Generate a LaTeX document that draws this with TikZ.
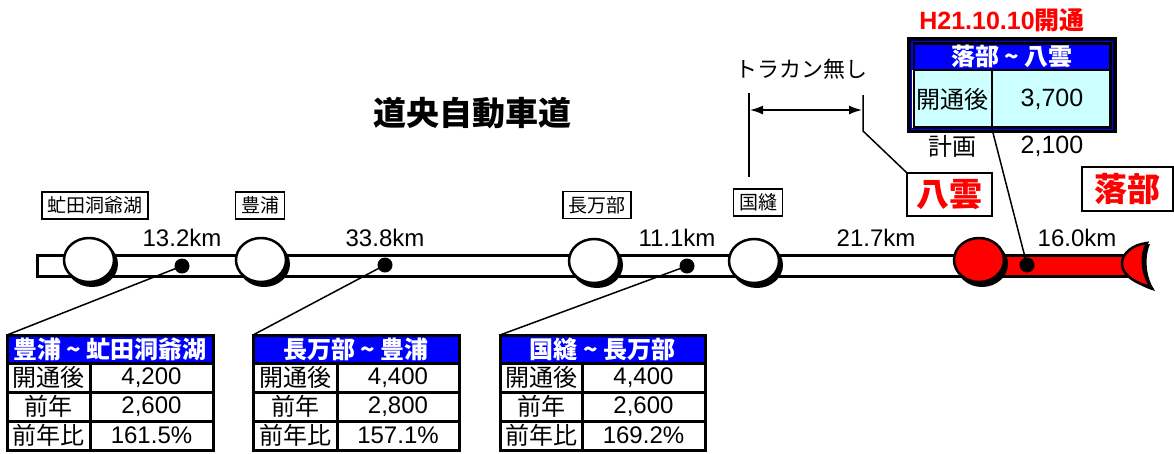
\documentclass[tikz,border=0pt]{standalone}
\usepackage{fontspec}
\setmainfont{Liberation Sans}
\newfontfamily\jp{Noto Sans CJK JP}
\usetikzlibrary{shapes.geometric,arrows.meta}
\definecolor{hdrblue}{RGB}{0,0,255}
\definecolor{pcyan}{RGB}{204,255,255}
\definecolor{rred}{RGB}{255,0,0}
\newcommand\fs[1]{\fontsize{#1}{#1}\selectfont}
\newcommand\ttable[8]{%
 \fill[hdrblue] (#2,335) rectangle (#4,363);
 \fill[white] (#2,363) rectangle (#4,450);
 \draw[tline] (#2,335) rectangle (#4,450);
 \draw[tline] (#2,363) -- (#4,363) (#2,392) -- (#4,392) (#2,421) -- (#4,421) (#3,363) -- (#3,450);
 \coordinate (#1tl) at (#2,335);
 \node[htext] (#1h) at ({(#2+#4)/2},349.5) {#5};
 \node[jtext] (#1ka) at ({(#2+#3)/2},377.5) {開通後};
 \node[jtext] (#1kb) at ({(#2+#3)/2},406.5) {前年};
 \node[jtext] (#1kc) at ({(#2+#3)/2},435.5) {前年比};
 \node[ntext] (#1va) at ({(#3+#4)/2},377.5) {#6};
 \node[ntext] (#1vb) at ({(#3+#4)/2},406.5) {#7};
 \node[ntext] (#1vc) at ({(#3+#4)/2},435.5) {#8};
}
\newcommand\station[4]{%
 \node[stshadow] (#1sh) at ({#2+3},{#3+4}) {};
 \node[station, fill=#4] (#1) at (#2,#3) {};
}
\begin{document}
\begin{tikzpicture}[x=1pt,y=-1pt,
  station/.style={ellipse, draw=black, line width=2.5pt, minimum width=50pt, minimum height=44pt, inner sep=0pt},
  stshadow/.style={ellipse, fill=black, minimum width=52pt, minimum height=46pt, inner sep=0pt},
  dot/.style={circle, fill=black, minimum size=15pt, inner sep=0pt},
  road/.style={line width=3pt, draw=black},
  leader/.style={line width=1.5pt, draw=black},
  lbl/.style={draw=black, line width=1.5pt, fill=white, font=\jp\fs{19}, inner xsep=5.5pt, inner ysep=0pt, minimum height=27pt},
  redlbl/.style={draw=black, line width=1.5pt, fill=white, font=\jp\bfseries\fs{33}, text=rred, inner sep=0pt, minimum height=43pt},
  km/.style={font=\fs{24}, inner sep=0pt},
  tline/.style={line width=3pt, draw=black},
  htext/.style={font=\jp\bfseries\fs{24}, text=white, inner sep=0pt},
  jtext/.style={font=\jp\fs{24}, inner sep=0pt},
  ntext/.style={font=\fs{24}, inner sep=0pt}
]
\useasboundingbox (0,0) rectangle (1174,453);

% title
\node[font=\jp\bfseries\fs{33}, inner sep=0pt] (title) at (472,113) {道央自動車道};

% road
\draw[road, fill=white] (37,255.5) rectangle (965,276.5);
\draw[road, fill=rred] (979,255.5) rectangle (1128,276.5);
% fish tail end
\fill[black] (1150,244) .. controls (1123,247) and (1111,278) .. (1155,291) .. controls (1146,278) and (1144,258) .. cycle;
\filldraw[fill=rred, draw=black, line width=2.5pt] (1147,243) .. controls (1119,246) and (1107,276) .. (1151,287) .. controls (1142,275) and (1140,255) .. cycle;

% stations
\station{s1}{89}{260}{white}
\station{s2}{261}{260}{white}
\station{s3}{594}{261}{white}
\station{s4}{754}{261}{white}
\station{s5}{979}{260}{rred}

% station labels
\node[lbl] (l1) at (95,205.5) {虻田洞爺湖};
\node[lbl] (l2) at (260,205.5) {豊浦};
\node[lbl] (l3) at (597,205) {長万部};
\node[lbl] (l4) at (758,202.5) {国縫};
\node[redlbl, minimum width=85pt] (l5) at (949.5,194.5) {八雲};
\node[redlbl, minimum width=91pt, minimum height=44pt] (l6) at (1127.5,189) {落部};

% distances
\node[km] (k1) at (182,238) {13.2km};
\node[km] (k2) at (385,238) {33.8km};
\node[km] (k3) at (677,238) {11.1km};
\node[km] (k4) at (876,238) {21.7km};
\node[km] (k5) at (1077,238) {16.0km};

% tables
\ttable{ta}{7}{90}{213}{豊浦 \textasciitilde{} 虻田洞爺湖}{4,200}{2,600}{161.5\%}
\ttable{tb}{253}{337}{459}{長万部 \textasciitilde{} 豊浦}{4,400}{2,800}{157.1\%}
\ttable{tc}{500}{582}{705}{国縫 \textasciitilde{} 長万部}{4,400}{2,600}{169.2\%}

% dots
\node[dot] (d1) at (182,266) {};
\node[dot] (d2) at (385,265) {};
\node[dot] (d3) at (687,266) {};
\node[dot] (d4) at (1027,265) {};

% leaders
\draw[leader] (d1.center) -- (tatl);
\draw[leader] (d2.center) -- (tbtl);
\draw[leader] (d3.center) -- (tctl);

% Yakumo-Otoshibe table
\draw[line width=4pt, draw=black, fill=white] (909,39) rectangle (1115,131);
\fill[hdrblue] (911,41) rectangle (1113,70);
\fill[pcyan] (914,70) rectangle (1110,127);
\draw[line width=1.2pt, draw=hdrblue] (911.5,41.5) rectangle (1112.5,129);
\draw[line width=2.5pt, draw=black] (914,43.5) rectangle (1110.5,127.5);
\draw[line width=2.5pt, draw=black] (914,70) -- (1110.5,70) (992,70) -- (992,127.5);
\coordinate (ytb) at (992,129);
\node[htext] (yh) at (1012,56.5) {落部 \textasciitilde{} 八雲};
\node[jtext] (yk) at (952,99) {開通後};
\node[ntext, font=\fs{25}] (yv) at (1052,99) {3,700};
\node[font=\bfseries\fs{25}, text=rred, inner sep=0pt] (open) at (1002,20) {H21.10.10{\jp 開通}};
\node[jtext, font=\jp\fs{24}] (pk) at (952,146) {計画};
\node[ntext, font=\fs{25}] (pv) at (1052,146) {2,100};
\draw[leader] (d4.center) -- (ytb);

% traffic counter note
\node[font=\jp\fs{22}, inner sep=0pt] (tk) at (801,69) {トラカン無し};
\coordinate (va) at (749,93);
\coordinate (vb) at (749,177);
\coordinate (wa) at (863,95);
\coordinate (wb) at (863,131);
\coordinate (aa) at (750,110);
\coordinate (ab) at (862,110);
\draw[leader] (va) -- (vb);
\draw[leader] (wa) -- (wb) -- (l5.north west);
\draw[leader, {Latex[length=13pt,width=9pt]}-{Latex[length=13pt,width=9pt]}] (aa) -- (ab);
\end{tikzpicture}
\end{document}
